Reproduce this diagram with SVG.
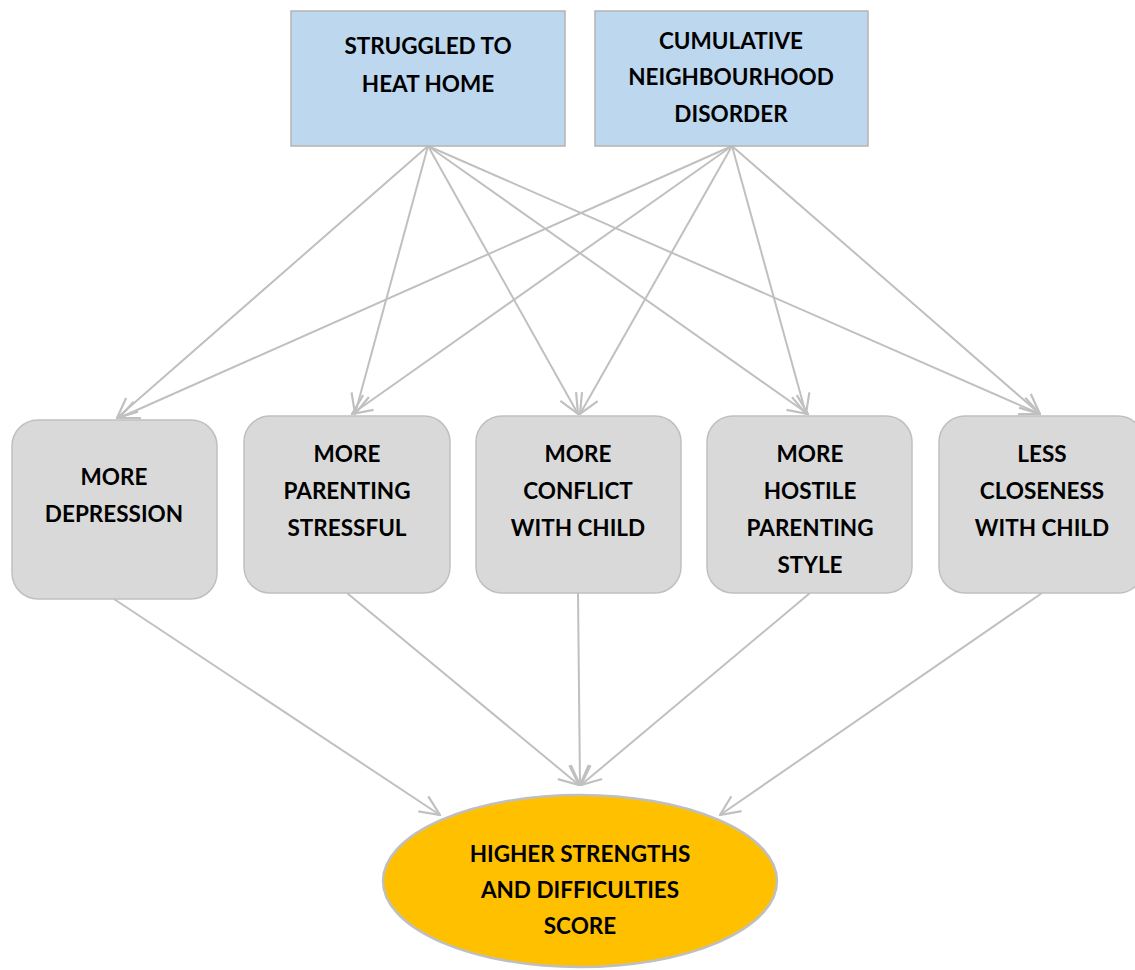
<svg xmlns="http://www.w3.org/2000/svg" width="1135" height="970" viewBox="0 0 1135 970">
<style>
.top{fill:#bdd7ee;stroke:#b4b4b4;stroke-width:1.5}
.mid{fill:#d9d9d9;stroke:#c0c0c0;stroke-width:1.5}
.out{fill:#ffc000;stroke:#bfbfbf;stroke-width:2.5}
text{font-family:Lato,"Open Sans","Liberation Sans",sans-serif;font-weight:bold;font-size:22.5px;fill:#000;text-anchor:middle;dominant-baseline:central}
.c line{stroke:#c0c0c0;stroke-width:2;marker-end:url(#arr)}
</style>
<defs>
<marker id="arr" viewBox="0 0 22 22" refX="21" refY="11" markerWidth="22" markerHeight="22" markerUnits="userSpaceOnUse" orient="auto">
<path d="M1,2 L21,11 L1,20" fill="none" stroke="#c0c0c0" stroke-width="2.2"/>
</marker>
</defs>
<rect width="1135" height="970" fill="#fff"/>
<g class="c" id="connectors">
<line x1="428" y1="146" x2="117" y2="418"/>
<line x1="428" y1="146" x2="355" y2="414"/>
<line x1="428" y1="146" x2="578" y2="414"/>
<line x1="428" y1="146" x2="808" y2="414"/>
<line x1="428" y1="146" x2="1040" y2="414"/>
<line x1="732" y1="146" x2="119" y2="418"/>
<line x1="732" y1="146" x2="352" y2="414"/>
<line x1="732" y1="146" x2="580" y2="414"/>
<line x1="732" y1="146" x2="806" y2="414"/>
<line x1="732" y1="146" x2="1040" y2="414"/>
<line x1="114" y1="599" x2="440" y2="815"/>
<line x1="347" y1="593" x2="579" y2="785"/>
<line x1="578" y1="593" x2="580" y2="785"/>
<line x1="810" y1="593" x2="581" y2="785"/>
<line x1="1042" y1="593" x2="720" y2="815"/>
</g>
<g id="heat"><rect class="top" x="291" y="11" width="274" height="135"/>
<text x="428" y="45">STRUGGLED TO</text><text x="428" y="83">HEAT HOME</text></g>
<g id="neigh"><rect class="top" x="595" y="11" width="273" height="135"/>
<text x="731" y="40">CUMULATIVE</text><text x="731" y="76">NEIGHBOURHOOD</text><text x="731" y="113">DISORDER</text></g>
<g id="dep"><rect class="mid" x="12" y="420" width="205" height="179" rx="26"/>
<text x="114" y="476">MORE</text><text x="114" y="513">DEPRESSION</text></g>
<g id="stress"><rect class="mid" x="244" y="416" width="206" height="177" rx="26"/>
<text x="347" y="453">MORE</text><text x="347" y="490">PARENTING</text><text x="347" y="527">STRESSFUL</text></g>
<g id="conflict"><rect class="mid" x="476" y="416" width="205" height="177" rx="26"/>
<text x="578" y="453">MORE</text><text x="578" y="490">CONFLICT</text><text x="578" y="527">WITH CHILD</text></g>
<g id="hostile"><rect class="mid" x="707" y="416" width="205" height="177" rx="26"/>
<text x="810" y="453">MORE</text><text x="810" y="490">HOSTILE</text><text x="810" y="527">PARENTING</text><text x="810" y="564">STYLE</text></g>
<g id="close"><rect class="mid" x="939" y="416" width="205" height="177" rx="26"/>
<text x="1042" y="453">LESS</text><text x="1042" y="490">CLOSENESS</text><text x="1042" y="527">WITH CHILD</text></g>
<g id="sdq"><ellipse class="out" cx="580" cy="881" rx="197" ry="86"/>
<text x="580" y="853">HIGHER STRENGTHS</text><text x="580" y="889">AND DIFFICULTIES</text><text x="580" y="925">SCORE</text></g>
</svg>
